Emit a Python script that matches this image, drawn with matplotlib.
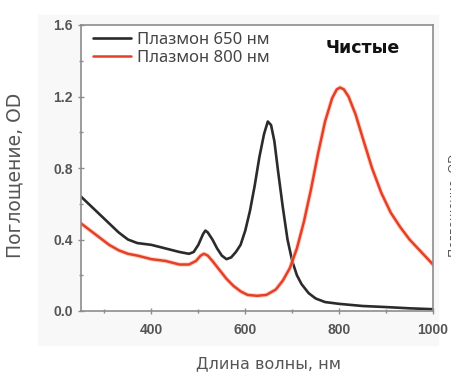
import numpy as np
import matplotlib.pyplot as plt
from matplotlib.ticker import MultipleLocator

# ДАННЫЕ
wl_650 = [250, 270, 290, 310, 330, 350, 370, 400, 430, 460, 480, 490, 500, 510, 515, 520,
          530, 540, 550, 560, 570, 580, 590, 600, 610, 620, 630, 640, 648, 655, 662, 670,
          680, 690, 700, 710, 720, 735, 750, 770, 800, 850, 900, 950, 1000]
od_650 = [0.64, 0.59, 0.54, 0.49, 0.44, 0.40, 0.38, 0.37, 0.35, 0.33, 0.32, 0.33, 0.37, 0.43,
          0.45, 0.44, 0.40, 0.35, 0.31, 0.29, 0.30, 0.33, 0.37, 0.45, 0.56, 0.70, 0.86, 0.99,
          1.06, 1.04, 0.95, 0.78, 0.58, 0.40, 0.28, 0.20, 0.15, 0.10, 0.07, 0.05, 0.04, 0.028,
          0.022, 0.015, 0.01]

wl_800 = [250, 270, 290, 310, 330, 350, 370, 400, 430, 460, 480, 495, 505, 512, 520, 530,
          545, 560, 575, 590, 605, 625, 645, 665, 680, 695, 710, 725, 740, 755, 770, 785,
          795, 802, 810, 820, 835, 850, 870, 890, 910, 930, 950, 975, 1000]
od_800 = [0.49, 0.45, 0.41, 0.37, 0.34, 0.32, 0.31, 0.29, 0.28, 0.26, 0.26, 0.28, 0.31, 0.32,
          0.31, 0.28, 0.23, 0.18, 0.14, 0.11, 0.09, 0.085, 0.09, 0.12, 0.17, 0.24, 0.35, 0.50,
          0.68, 0.88, 1.06, 1.19, 1.24, 1.25, 1.24, 1.20, 1.10, 0.97, 0.80, 0.66, 0.55, 0.47,
          0.40, 0.33, 0.26]

plt.rcParams['font.family'] = ['Noto Sans', 'DejaVu Sans']

fig = plt.figure(figsize=(4.52, 3.72), dpi=100, facecolor='white')
# светло-серая подложка вокруг графика (как у скана)
fig.patches.append(plt.Rectangle((38 / 452, 1 - 345 / 372), 400 / 452, 330 / 372,
                                 transform=fig.transFigure, color='#f8f8f8', zorder=-5))

ax = fig.add_axes([81 / 452, 1 - 311 / 372, 352 / 452, 286 / 372])
ax.set_facecolor('white')

ax.plot(wl_650, od_650, color='#2b2b2b', lw=1.9, label='Плазмон 650 нм', solid_capstyle='round')
ax.plot(wl_800, od_800, color='#ffb49c', lw=3.2, alpha=0.6)
ax.plot(wl_800, od_800, color='#e3402a', lw=1.8, label='Плазмон 800 нм', solid_capstyle='round')

ax.set_xlim(250, 1000)
ax.set_ylim(0, 1.6)
ax.xaxis.set_minor_locator(MultipleLocator(100))
ax.yaxis.set_minor_locator(MultipleLocator(0.2))
ax.set_xticks([400, 600, 800, 1000])
ax.set_yticks([0.0, 0.4, 0.8, 1.2, 1.6])
ax.set_yticklabels(['0.0', '0.4', '0.8', '1.2', '1.6'])

for s in ax.spines.values():
    s.set_color('#8c8c8c')
    s.set_linewidth(1.2)
ax.tick_params(which='both', direction='inout', color='#8c8c8c', width=1, length=4,
               labelcolor='#555555', labelsize=10, pad=4)
ax.tick_params(which='minor', length=3)
ax.tick_params(axis='x', pad=7)
for lbl in ax.get_xticklabels() + ax.get_yticklabels():
    lbl.set_fontweight('bold')
    lbl.set_family(['Liberation Sans', 'DejaVu Sans'])

leg = ax.legend(loc='upper left', frameon=False, fontsize=12, handlelength=2.3,
                handletextpad=0.35, labelspacing=0.15, borderaxespad=0.0,
                bbox_to_anchor=(0.015, 1.0))
for t in leg.get_texts():
    t.set_color('#444444')

ax.text(0.80, 0.92, 'Чистые', transform=ax.transAxes, ha='center', va='center',
        fontsize=12.5, fontweight='bold', color='#111111', family=['DejaVu Sans'])

fig.text(15 / 452, 1 - 175 / 372, 'Поглощение, OD', rotation=90, ha='center', va='center',
         fontsize=13.5, color='#555555', family=['DejaVu Sans'])
fig.text(268 / 452, 1 - 364 / 372, 'Длина волны, нм', ha='center', va='center',
         fontsize=11.5, color='#555555', family=['DejaVu Sans'])
# обрезанная подпись соседнего графика справа
fig.text(448 / 452, 1 - 205 / 372, 'Поглощение, OD', rotation=90, ha='left', va='center',
         fontsize=9, color='#555555')

fig.savefig('out.png', dpi=100, facecolor='white')
